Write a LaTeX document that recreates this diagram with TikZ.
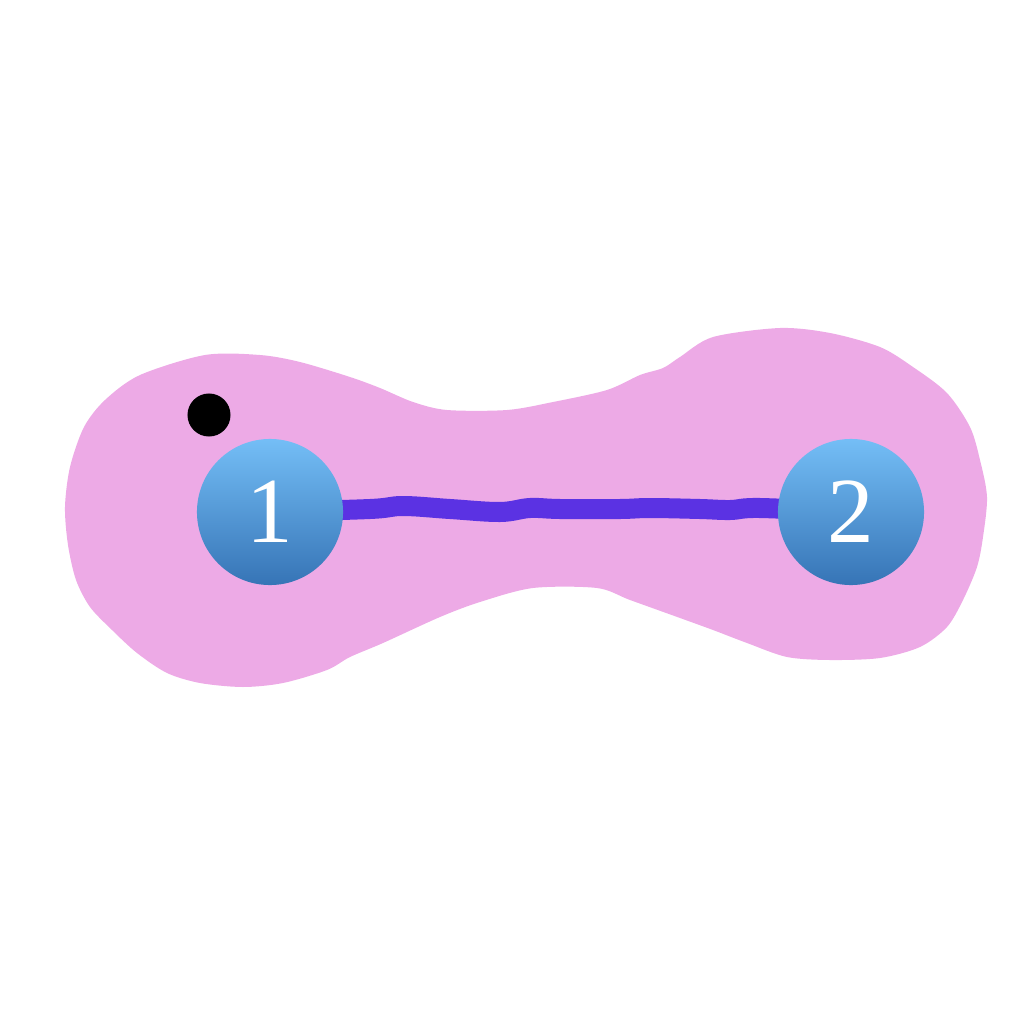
\documentclass[tikz,border=0pt]{standalone}
\usepackage{fontspec}
\setmainfont{Liberation Serif}
\pgfdeclarelayer{bg}
\pgfdeclarelayer{edges}
\pgfsetlayers{bg,edges,main}
\definecolor{blobpink}{RGB}{237,170,230}
\definecolor{edgepurple}{RGB}{91,50,227}
\definecolor{nodetop}{RGB}{116,190,246}
\definecolor{nodebot}{RGB}{54,116,182}
\tikzset{
  vertex/.style={circle, minimum size=1.46cm, inner sep=0pt, top color=nodetop, bottom color=nodebot, draw=none, text=white, font=\fontsize{26.5}{30}\selectfont},
  dotmark/.style={circle, fill=black, minimum size=0.43cm, inner sep=0pt},
  link/.style={draw=edgepurple, line width=0.2cm, line cap=butt, line join=round},
  blob/.style={fill=blobpink, draw=none}
}
\begin{document}
\begin{tikzpicture}[x=0.01cm, y=-0.01cm]
\useasboundingbox (0,0) rectangle (1024,1024);
\begin{pgfonlayer}{bg}
\fill[blob] plot[smooth cycle, tension=0.5] coordinates {
(65,507) (68,545) (76,580) (90,607) (112,630) (137,653) (167,673) (200,683) (243,687) (283,683) (327,670) (350,657) (383,643) (440,617) (480,602) (533,588) (597,588) (630,600) (680,618) (713,630) (747,643) (787,657) (830,660) (880,658) (920,647) (947,627) (963,600) (977,567) (983,537) (987,497) (980,460) (970,427) (947,393) (913,367) (880,347) (830,333) (780,328) (713,337) (680,357) (663,368) (640,375) (607,390) (553,402) (507,410) (447,410) (413,402) (380,388) (350,377) (300,362) (260,355) (205,355) (140,375) (105,400) (84,427) (70,467)};
\end{pgfonlayer}
\node[vertex] (n1) at (270,512) {1};
\node[vertex] (n2) at (851,512) {2};
\node[dotmark] (d) at (209,415) {};
\begin{pgfonlayer}{edges}
\draw[link] plot[smooth, tension=0.6] coordinates {(n1) (370,509) (403,506) (450,509) (500,512) (530,508) (560,509) (620,509) (650,508) (700,509) (730,510) (760,508) (n2)};
\end{pgfonlayer}
\end{tikzpicture}
\end{document}
